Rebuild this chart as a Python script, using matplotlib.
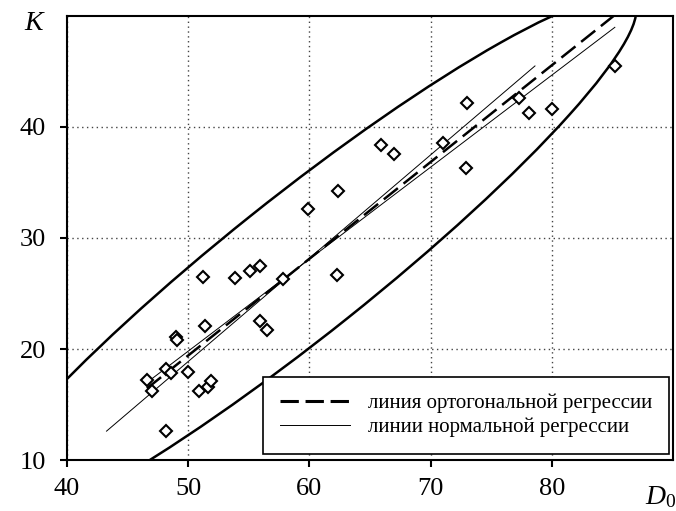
import numpy as np
import matplotlib.pyplot as plt
from matplotlib.patches import Ellipse
from matplotlib.lines import Line2D

plt.rcParams['font.family'] = 'Liberation Serif'
plt.rcParams['mathtext.fontset'] = 'custom'
plt.rcParams['mathtext.it'] = 'Liberation Serif:italic'
plt.rcParams['mathtext.rm'] = 'Liberation Serif'

# observations: D0 and K
d0 = [85.2, 73.0, 77.3, 78.1, 80.05, 71.0, 65.9, 67.0, 72.95, 62.4,
      59.9, 51.2, 53.9, 55.1, 55.9, 57.85, 62.3, 51.4, 49.0, 49.1,
      55.9, 56.5, 48.2, 48.6, 46.6, 47.05, 50.0, 50.85, 51.6, 51.9, 48.2]
k = [45.5, 42.2, 42.6, 41.3, 41.6, 38.6, 38.4, 37.6, 36.3, 34.2,
     32.6, 26.5, 26.4, 27.0, 27.5, 26.3, 26.7, 22.1, 21.1, 20.8,
     22.5, 21.7, 18.2, 17.8, 17.2, 16.2, 17.9, 16.2, 16.6, 17.1, 12.6]

x_ticks = [40, 50, 60, 70, 80]
y_ticks = [10, 20, 30, 40]

# half-axes of the scatter ellipse (along / across the orthogonal line)
ell_a = 36.5
ell_b = 6.1

labels = ['линия ортогональной регрессии', 'линии нормальной регрессии']

x = np.array(d0)
y = np.array(k)
mx, my = x.mean(), y.mean()
cov = np.cov(x, y)
sxx, syy, sxy = cov[0, 0], cov[1, 1], cov[0, 1]

# orthogonal regression = major axis of the covariance matrix
w, v = np.linalg.eigh(cov)
major = v[:, 1]
slope_o = major[1] / major[0]
angle = np.degrees(np.arctan(slope_o))

fig = plt.figure(figsize=(6.76, 5.11), dpi=100)
ax = fig.add_axes([0.0991, 0.0998, 0.8965, 0.8689])

ax.add_patch(Ellipse((mx, my), 2 * ell_a, 2 * ell_b, angle=angle,
                     fill=False, lw=1.8, ec='black', zorder=3))

xs = np.array([x.min(), x.max()])
ax.plot(xs, my + slope_o * (xs - mx), color='black', lw=1.8,
        dashes=(7.2, 2.9), zorder=3)
ax.plot(xs, my + sxy / sxx * (xs - mx), color='black', lw=0.7, zorder=3)
ys = np.array([y.min(), y.max()])
ax.plot(mx + sxy / syy * (ys - my), ys, color='black', lw=0.7, zorder=3)

ax.plot(x, y, 'D', ms=6.5, mfc='white', mec='black', mew=1.5, ls='none',
        zorder=4)

ax.set_xlim(40, 90)
ax.set_ylim(10, 50)
ax.set_xticks(x_ticks)
ax.set_yticks(y_ticks)
ax.grid(True, ls=(0, (1, 2.5)), lw=1, color='#444444')
ax.set_axisbelow(True)

for s in ax.spines.values():
    s.set_linewidth(1.5)
ax.tick_params(direction='out', length=5, width=1.5, labelsize=19)
ax.tick_params(axis='y', pad=10)
ax.tick_params(axis='x', pad=8)

handles = [Line2D([], [], color='black', lw=2.2, dashes=(6, 2.2)),
           Line2D([], [], color='black', lw=0.7)]
leg = ax.legend(handles, labels, loc='lower right',
                bbox_to_anchor=(0.9934, 0.0135), borderaxespad=0,
                fontsize=15, handlelength=3.4, handletextpad=0.85,
                labelspacing=0.22, borderpad=0.8, fancybox=False,
                framealpha=1, edgecolor='black')
leg.get_frame().set_linewidth(1.2)
leg.set_zorder(10)

fig.text(35 / 676, 1 - 24 / 511, '$K$', fontsize=20, ha='center', va='center')
fig.text(645 / 676, 1 - 497 / 511, '$D_0$', fontsize=20, ha='left',
         va='center')

fig.savefig('out.png', dpi=100)
